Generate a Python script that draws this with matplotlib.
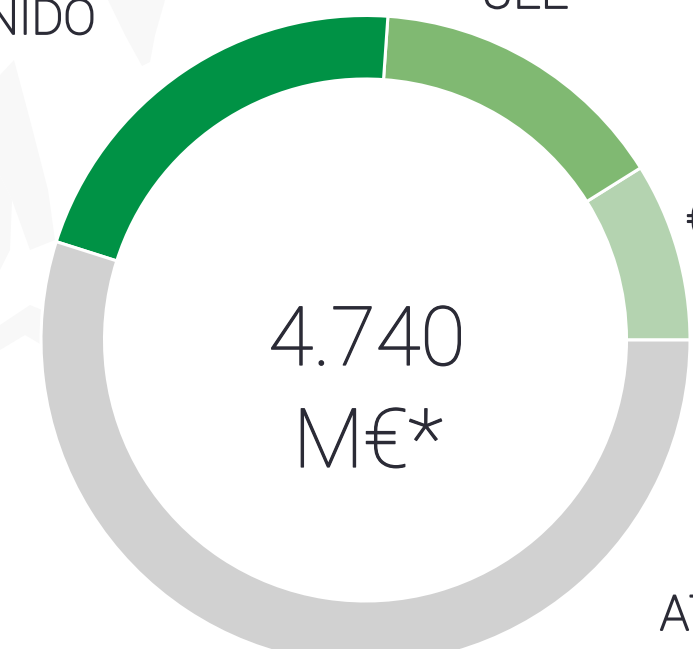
import matplotlib
matplotlib.use("Agg")
import matplotlib.pyplot as plt
import matplotlib.patheffects as pe

# share of the total per slice, counterclockwise from 3 o'clock
shares = [8.9, 15.0, 21.2, 54.9]
colors = ["#b4d3b0", "#80b972", "#009245", "#d1d1d1"]
total_value = "4.740"
total_unit = "M€*"
labels = ["REINO UNIDO", "UEE", "€", "AT"]

W, H = 693, 649
text_color = "#2b2b36"

# faint map shapes behind the ring
map_shapes = [
    [(0, 75), (14, 60), (30, 120), (48, 190), (55, 240), (30, 250), (12, 200), (0, 175)],
    [(0, 175), (12, 200), (10, 250), (0, 270)],
    [(0, 325), (30, 305), (42, 310), (42, 345), (25, 335), (0, 350)],
    [(108, 0), (165, 0), (155, 35), (150, 62), (142, 66), (125, 35)],
]

plt.rcParams["font.family"] = ["Roboto", "DejaVu Sans"]

fig = plt.figure(figsize=(W / 100, H / 100), dpi=100)
ax = fig.add_axes([0, 0, 1, 1])

for shape in map_shapes:
    ax.fill([p[0] for p in shape], [H - p[1] for p in shape], color="#f8f8f8", lw=0, zorder=0)

wedges, _ = ax.pie(shares, colors=colors, startangle=0, counterclock=True,
                   center=(365.5, H - 340), radius=324.5,
                   wedgeprops=dict(width=63.5, edgecolor="white", linewidth=2.2))
ax.set_xlim(0, W)
ax.set_ylim(0, H)
ax.set_aspect("auto")
ax.axis("off")

# the installed Roboto draws thin, so thicken it with a same colour stroke
center_fx = [pe.withStroke(linewidth=0.9, foreground=text_color)]
label_fx = [pe.withStroke(linewidth=1.3, foreground=text_color)]

ax.text(367, H - 365, total_value, fontsize=59, weight="light", color=text_color,
        ha="center", va="baseline", path_effects=center_fx)
ax.text(368, H - 467, total_unit, fontsize=59, weight="light", color=text_color,
        ha="center", va="baseline", path_effects=center_fx)

ax.text(96, H - 34, labels[0], fontsize=35, weight="light", color=text_color, ha="right", va="baseline", path_effects=label_fx)
ax.text(481, H - 8, labels[1], fontsize=35, weight="light", color=text_color, ha="left", va="baseline", path_effects=label_fx)
ax.text(686, H - 236, labels[2], fontsize=35, weight="light", color=text_color, ha="left", va="baseline", path_effects=label_fx)
ax.text(660, H - 630, labels[3], fontsize=35, weight="light", color=text_color, ha="left", va="baseline", path_effects=label_fx)

fig.savefig("out.png", dpi=100)
